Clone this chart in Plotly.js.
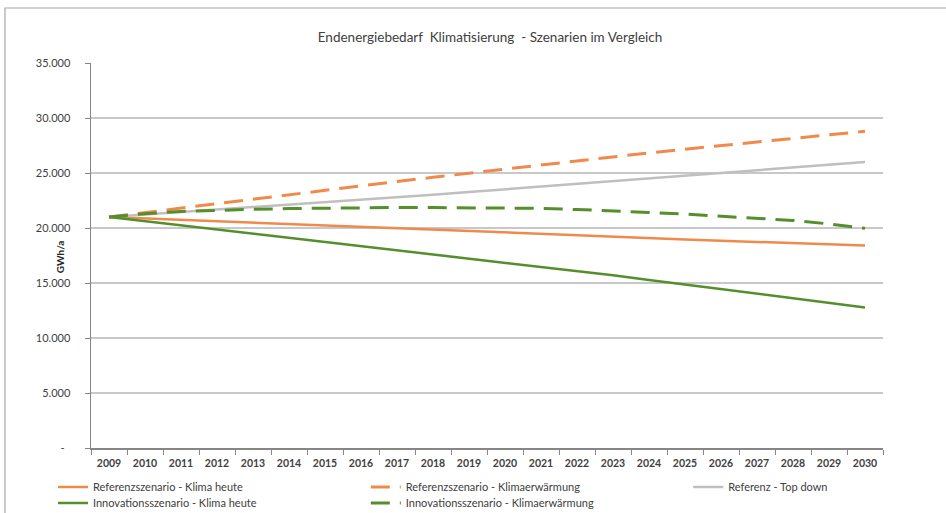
<!DOCTYPE html>
<html>
<head>
<meta charset="utf-8">
<script src="https://cdn.plot.ly/plotly-3.0.1.min.js"></script>
<style>html,body{margin:0;padding:0;background:#fff;}#chart{width:946px;height:513px;}</style>
</head>
<body>
<div id="chart"></div>
<script>
const years = ["2009","2010","2011","2012","2013","2014","2015","2016","2017","2018","2019","2020","2021","2022","2023","2024","2025","2026","2027","2028","2029","2030"];
const refHeute = [21000,20870,20740,20610,20480,20350,20220,20080,19950,19820,19690,19560,19430,19300,19180,19070,18960,18850,18740,18630,18520,18400];
const refWarm = [21000,21410,21820,22230,22640,23040,23450,23850,24230,24610,24990,25370,25750,26120,26500,26830,27160,27490,27820,28150,28480,28800];
const refTopDown = [21000,21220,21440,21660,21880,22100,22330,22550,22790,23030,23270,23520,23760,24000,24250,24500,24750,25000,25250,25500,25750,26000];
const innoHeute = [21000,20620,20250,19880,19510,19140,18770,18400,18020,17640,17250,16870,16480,16090,15700,15280,14860,14440,14020,13600,13180,12780];
const innoWarm = [21000,21300,21500,21620,21700,21770,21820,21850,21860,21860,21850,21830,21780,21680,21570,21420,21260,21090,20910,20690,20370,19970];
const yTickVals = [0,5000,10000,15000,20000,25000,30000,35000];
const yTickText = ["-\u00a0\u00a0","5.000","10.000","15.000","20.000","25.000","30.000","35.000"];

const orange = "#F08A4B";
const green = "#548F2C";
const grey = "#BFBFBF";
const dashPat = "19px,10px";

const traces = [
  {x: years, y: refHeute, name: "Referenzszenario - Klima heute", mode: "lines", line: {color: orange, width: 2.5}, legend: "legend"},
  {x: years, y: refWarm, name: "Referenzszenario - Klimaerwärmung", mode: "lines", line: {color: orange, width: 3, dash: dashPat}, legend: "legend2"},
  {x: years, y: refTopDown, name: "Referenz - Top down", mode: "lines", line: {color: grey, width: 2.5}, legend: "legend3"},
  {x: years, y: innoHeute, name: "Innovationsszenario - Klima heute", mode: "lines", line: {color: green, width: 2.5}, legend: "legend4"},
  {x: years, y: innoWarm, name: "Innovationsszenario - Klimaerwärmung", mode: "lines", line: {color: green, width: 3, dash: dashPat}, legend: "legend5"}
];

const fontFam = "Lato, 'Open Sans', sans-serif";
const legBase = {orientation: "v", yanchor: "top", xanchor: "left", bgcolor: "rgba(0,0,0,0)",
  font: {family: fontFam, size: 11, color: "#404040"}, itemwidth: 30, tracegroupgap: 0};
const row1 = -0.0636, row2 = -0.1052;
const col1 = -0.048, col2 = 0.347, col3 = 0.754;

const layout = {
  width: 946, height: 513,
  margin: {l: 91, r: 63, t: 63, b: 65, autoexpand: false},
  paper_bgcolor: "#fff", plot_bgcolor: "#fff",
  title: {text: "Endenergiebedarf  Klimatisierung  - Szenarien im Vergleich", x: 0.518, xanchor: "center", y: 0.928, yanchor: "middle",
    font: {family: fontFam, size: 13.5, color: "#404040"}},
  xaxis: {type: "category", range: [-0.5, 21.5], tickson: "boundaries", ticks: "outside", ticklen: 5, tickcolor: "#868686",
    showline: true, linecolor: "#868686", linewidth: 1.5, showgrid: false, zeroline: false, automargin: false,
    tickfont: {family: fontFam, size: 10.5, color: "#404040", weight: "bold"}, ticklabelstandoff: 5},
  yaxis: {range: [0, 35000], tickvals: yTickVals, ticktext: yTickText, ticks: "outside", ticklen: 5, tickcolor: "#868686",
    showline: true, linecolor: "#868686", linewidth: 1.5, showgrid: true, gridcolor: "#C8C8C8", gridwidth: 1.5, zeroline: false, automargin: false,
    tickfont: {family: fontFam, size: 11, color: "#404040"}, ticklabelstandoff: 12},
  showlegend: true,
  legend: Object.assign({}, legBase, {x: col1, y: row1}),
  legend2: Object.assign({}, legBase, {x: col2, y: row1}),
  legend3: Object.assign({}, legBase, {x: col3, y: row1}),
  legend4: Object.assign({}, legBase, {x: col1, y: row2}),
  legend5: Object.assign({}, legBase, {x: col2, y: row2}),
  annotations: [{text: "GWh/a", xref: "paper", yref: "paper", x: -0.039, y: 0.496, textangle: -90, showarrow: false,
    xanchor: "center", yanchor: "middle", font: {family: fontFam, size: 10, color: "#262626", weight: "bold"}}],
  shapes: [{type: "path", xref: "paper", yref: "paper", path: "M -0.1086,-0.2 L -0.1086,1.1429 L 1.09,1.1429",
    line: {color: "#A6A6A6", width: 1.2}}]
};

Plotly.newPlot("chart", traces, layout, {displayModeBar: false, staticPlot: true});
</script>
</body>
</html>
